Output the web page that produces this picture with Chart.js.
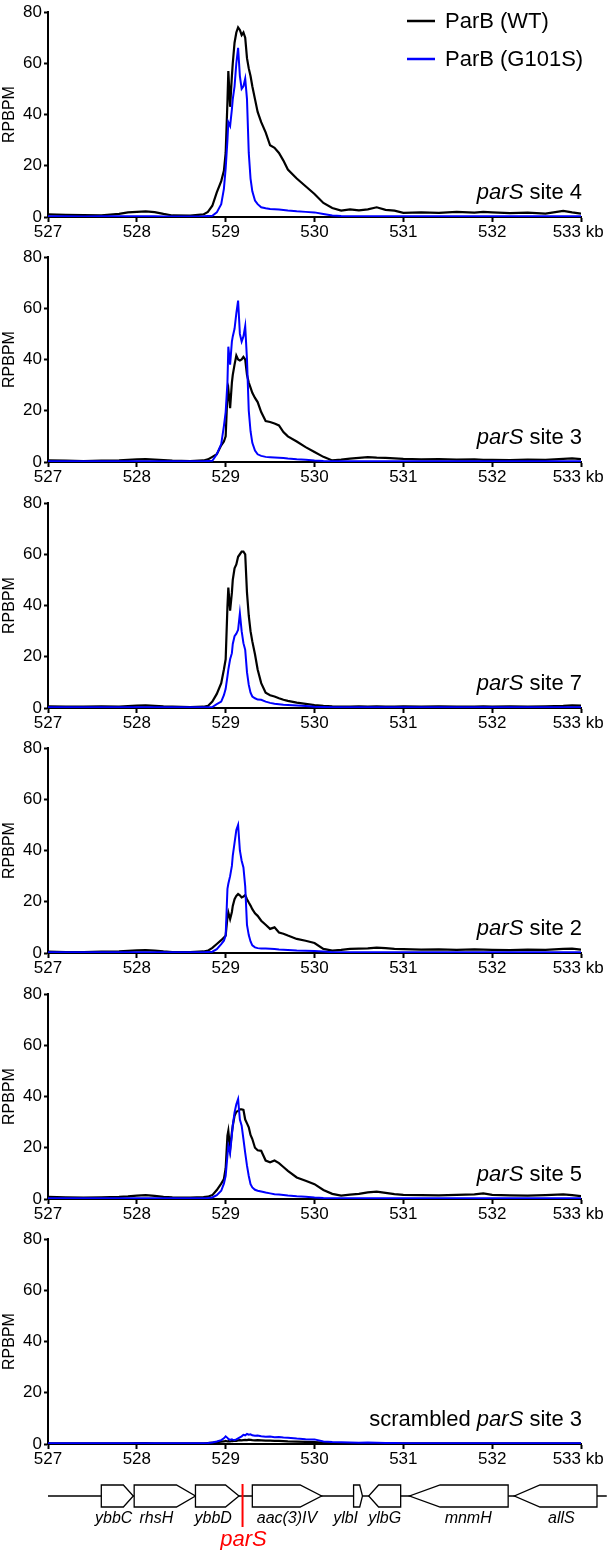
<!DOCTYPE html>
<html><head><meta charset="utf-8">
<script src="https://cdn.jsdelivr.net/npm/chart.js@4.4.1/dist/chart.umd.min.js"></script>
<style>
html,body{margin:0;padding:0;background:#fff;}
body{width:611px;height:1550px;position:relative;overflow:hidden;}
canvas{position:absolute;left:0;}
</style></head><body>
<canvas id="c0" width="611" height="245" style="top:0px"></canvas>
<canvas id="c1" width="611" height="245" style="top:245px"></canvas>
<canvas id="c2" width="611" height="245" style="top:491px"></canvas>
<canvas id="c3" width="611" height="245" style="top:736px"></canvas>
<canvas id="c4" width="611" height="245" style="top:982px"></canvas>
<canvas id="c5" width="611" height="323" style="top:1227px"></canvas>
<script>
// ---------- DATA ----------
const positionsKb = [527.0,527.2,527.4,527.6,527.8,527.9,528.0,528.1,528.2,528.3,
 528.4,528.6,528.75,528.8,528.85,528.9,528.95,528.98,529.0,529.02,
 529.03,529.05,529.07,529.08,529.1,529.12,529.14,529.16,529.18,529.2,
 529.22,529.24,529.26,529.28,529.3,529.33,529.36,529.4,529.45,529.5,
 529.55,529.6,529.65,529.7,529.8,529.9,530.0,530.1,530.2,530.3,
 530.4,530.5,530.6,530.7,530.8,530.9,531.0,531.2,531.4,531.6,
 531.8,531.9,532.0,532.2,532.4,532.6,532.8,532.9,533.0];

const xTicksKb = [527,528,529,530,531,532,533];
const yTicks = [0,20,40,60,80];

const wtSite4 = [1.0,0.8,0.7,0.6,1.2,1.8,2.0,2.2,1.9,1.2,
 0.6,0.5,1.0,2.0,4.4,9.6,14,18,25,45,
 57,43,55,60,68,72,74,73,71,72,
 70,62,58,55,51,46,41,37,33,28,
 27,25,22,18.5,15,12,9,5.5,3.5,2.5,
 3.0,2.6,3.0,3.8,2.8,2.5,1.6,1.8,1.6,2.0,
 1.7,2.0,1.8,1.5,1.7,1.3,2.4,1.8,1.3];
const g101sSite4 = [0.3,0.3,0.2,0.3,0.3,0.3,0.3,0.3,0.3,0.2,
 0.2,0.2,0.3,0.4,0.5,1.8,5,11,19,30,
 37,35.5,42,46,51,60,66,55,50,51,
 54,46,25,15,10,6.4,5,3.8,3.4,3.1,
 3.0,2.9,2.7,2.5,2.2,2.0,1.8,1.2,0.6,0.4,
 0.3,0.3,0.3,0.3,0.3,0.3,0.3,0.3,0.3,0.3,
 0.3,0.3,0.3,0.3,0.3,0.3,0.3,0.3,0.3];

const wtSite3 = [0.6,0.5,0.4,0.5,0.6,0.8,1.0,1.1,0.9,0.7,
 0.5,0.4,0.6,1.0,2,3,6.5,8,10,27,
 28.5,21,31,34,38,41.5,40,39.6,40,41,
 40,34,31,29,27,25,23.4,19.5,16,15.6,
 15,14.3,11.7,10,8,5.8,3.9,2,0.6,0.9,
 1.3,1.6,1.9,1.7,1.6,1.4,1.2,1.0,1.1,0.9,
 1.0,0.8,0.8,0.7,0.9,0.8,1.2,1.4,1.1];
const g101sSite3 = [0.3,0.3,0.3,0.3,0.3,0.3,0.3,0.3,0.3,0.3,
 0.3,0.3,0.3,0.4,0.5,3,7,14,19.5,31,
 45,38,47,49,52,58,63,50,47,49,
 53,40,20,12,7.5,4.5,3,2.4,2,1.9,
 1.8,1.7,1.6,1.4,1.1,0.9,0.6,0.4,0.3,0.3,
 0.3,0.3,0.3,0.3,0.3,0.3,0.3,0.3,0.3,0.3,
 0.3,0.3,0.3,0.3,0.3,0.3,0.3,0.3,0.3];

const wtSite7 = [0.6,0.5,0.5,0.6,0.5,0.7,0.9,1.0,0.8,0.6,
 0.5,0.4,0.5,0.8,2.5,5.5,9.7,15,19,39.6,
 47,38,45,50,54.5,56,59,60,61,61,
 60,45,36,30,26,21,15,9.7,6,5,
 4.5,3.8,3.2,2.8,2.1,1.6,1.1,0.8,0.6,0.5,
 0.5,0.6,0.5,0.6,0.5,0.5,0.6,0.5,0.6,0.5,
 0.5,0.6,0.5,0.6,0.5,0.6,0.8,1.0,0.9];
const g101sSite7 = [0.3,0.3,0.3,0.3,0.3,0.3,0.3,0.3,0.3,0.3,
 0.3,0.3,0.3,0.3,0.4,1.5,2.5,5,7.5,12.3,
 15,19,21.4,25,28,29,30.5,37,30,25.3,
 22.7,14,9,6,4.5,3.8,3.3,3.2,2.5,2,
 1.7,1.5,1.3,1.2,1.0,0.8,0.5,0.4,0.3,0.3,
 0.3,0.3,0.3,0.3,0.3,0.3,0.3,0.3,0.3,0.3,
 0.3,0.3,0.3,0.3,0.3,0.3,0.3,0.3,0.3];

const wtSite2 = [0.5,0.4,0.4,0.5,0.6,0.8,1.0,1.1,0.9,0.6,
 0.4,0.4,0.6,0.9,2,3.5,5,6,6.8,14,
 15.8,13.2,16,18.4,21,22.3,23,22.5,21.7,22,
 22.6,21,19.7,18.5,17.1,15.5,14.5,12.6,11,9.4,
 10,8,7.5,6.8,5.5,4.8,3.9,1.6,0.9,1.2,
 1.6,1.7,1.8,2.1,1.9,1.6,1.5,1.3,1.4,1.2,
 1.4,1.3,1.2,1.1,1.3,1.2,1.6,1.7,1.3];
const g101sSite2 = [0.3,0.3,0.3,0.3,0.3,0.3,0.3,0.3,0.3,0.3,
 0.3,0.3,0.3,0.4,0.5,1.5,3.5,4.8,6.8,25,
 27,30,34,38,43,48,50,40,36,33.4,
 26,11,7,4.5,3,2.2,1.9,1.8,1.8,1.7,
 1.6,1.4,1.3,1.2,1.0,0.9,0.8,0.6,0.3,0.3,
 0.3,0.3,0.3,0.3,0.3,0.3,0.3,0.3,0.3,0.3,
 0.3,0.3,0.3,0.3,0.3,0.3,0.3,0.3,0.3];

const wtSite5 = [0.8,0.6,0.5,0.6,0.8,1.0,1.3,1.5,1.2,0.8,
 0.6,0.5,0.7,0.9,1.5,3.5,6,7.8,12,24.7,
 26.6,19.5,26,28.6,32.5,34,34.4,35,35,34.8,
 31,29.5,28,25,23.4,20,19,18.8,15,14.3,
 15,14,12.5,11,8.4,7.1,5.8,3.5,2,1.3,
 1.7,2.0,2.6,2.9,2.4,1.9,1.6,1.5,1.4,1.6,
 1.8,2.2,1.6,1.4,1.3,1.5,1.8,1.5,1.1];
const g101sSite5 = [0.3,0.3,0.3,0.3,0.3,0.3,0.3,0.3,0.3,0.3,
 0.3,0.3,0.3,0.4,0.6,1.5,3.2,6,9,17,
 20.8,18,25,28.6,33.8,37,39,31,28.6,23.4,
 18,13,9,5.8,4.5,3.6,3.2,2.9,2.5,2.2,
 1.9,1.8,1.6,1.4,1.1,0.9,0.6,0.4,0.3,0.3,
 0.3,0.3,0.3,0.3,0.3,0.3,0.3,0.3,0.3,0.3,
 0.3,0.3,0.3,0.3,0.3,0.3,0.3,0.3,0.3];

const wtScrambled3 = [0.3,0.3,0.3,0.3,0.3,0.3,0.4,0.4,0.3,0.3,
 0.3,0.3,0.3,0.4,0.5,0.7,0.9,1.0,1.2,1.0,
 1.1,1.0,1.2,1.1,1.3,1.2,1.4,1.5,1.4,1.5,
 1.6,1.5,1.7,1.6,1.5,1.4,1.5,1.4,1.3,1.3,
 1.2,1.2,1.1,1.0,0.9,0.8,0.7,0.5,0.4,0.3,
 0.3,0.3,0.3,0.3,0.3,0.3,0.3,0.3,0.3,0.3,
 0.3,0.3,0.3,0.3,0.3,0.3,0.3,0.3,0.3];
const g101sScrambled3 = [0.3,0.3,0.3,0.3,0.3,0.3,0.3,0.3,0.3,0.3,
 0.3,0.3,0.3,0.4,0.6,1.0,1.5,2.2,3.0,2.4,
 2.0,1.6,1.8,1.7,1.6,1.8,2.2,2.6,3.0,3.6,
 3.4,3.9,3.6,3.8,3.4,3.2,3.3,3.0,2.8,2.9,
 2.6,2.7,2.5,2.4,2.1,1.9,1.8,1.0,0.8,0.7,
 0.6,0.5,0.6,0.5,0.4,0.4,0.3,0.3,0.3,0.3,
 0.3,0.3,0.3,0.3,0.3,0.3,0.3,0.3,0.3];

const seriesNames = ['ParB (WT)', 'ParB (G101S)'];
const panelTitles = [
  [['parS',true],[' site 4',false]],
  [['parS',true],[' site 3',false]],
  [['parS',true],[' site 7',false]],
  [['parS',true],[' site 2',false]],
  [['parS',true],[' site 5',false]],
  [['scrambled ',false],['parS',true],[' site 3',false]]
];
const panelWT = [wtSite4, wtSite3, wtSite7, wtSite2, wtSite5, wtScrambled3];
const panelMut = [g101sSite4, g101sSite3, g101sSite7, g101sSite2, g101sSite5, g101sScrambled3];

const geneNames = ['ybbC','rhsH','ybbD','aac(3)IV','ylbI','ylbG','mnmH','allS'];
const geneStartKb = [527.60, 527.97, 528.66, 529.30, 530.44, 530.61, 531.07, 532.25];
const geneEndKb = [527.96, 528.66, 529.15, 530.08, 530.54, 530.97, 532.18, 533.18];
const geneStrand = [1, 1, 1, 1, 1, -1, -1, -1];
const geneLabelKb = [527.74, 528.22, 528.86, 529.69, 530.35, 530.79, 531.73, 532.78];
const trackKb = [527.0, 533.29];
const parSKb = 529.19;
const parSName = 'parS';
const yTitle = 'RPBPM';
const xUnit = 'kb';

// ---------- DRAWING ----------
const FONT = '"Liberation Sans", Arial, Helvetica, sans-serif';
const BLUE = 'rgb(0,0,255)';
const CHART_BOTTOM = 217;
const TICK_FONT = 17;
const LABEL_FONT = 22;

function drawRich(ctx, parts, rightX, y, size) {
  const widths = parts.map(p => { ctx.font = (p[1] ? 'italic ' : '') + size + 'px ' + FONT; return ctx.measureText(p[0]).width; });
  let x = rightX - widths.reduce((a, b) => a + b, 0);
  ctx.textAlign = 'left';
  ctx.textBaseline = 'middle';
  parts.forEach((p, i) => { ctx.font = (p[1] ? 'italic ' : '') + size + 'px ' + FONT; ctx.fillText(p[0], x, y); x += widths[i]; });
}

function makeDecor(idx) {
  return {
    id: 'decor' + idx,
    afterDraw(chart) {
      const ctx = chart.ctx;
      const area = chart.chartArea;
      const xs = chart.scales.x;
      ctx.save();
      ctx.fillStyle = '#000';
      // y title
      ctx.save();
      ctx.translate(10, (area.top + area.bottom) / 2);
      ctx.rotate(-Math.PI / 2);
      ctx.font = '16px ' + FONT;
      ctx.textAlign = 'center';
      ctx.textBaseline = 'middle';
      ctx.fillText(yTitle, 0, 0);
      ctx.restore();
      // last tick label with unit: number ends at the tick
      const lastVal = xTicksKb[xTicksKb.length - 1];
      const lastPx = xs.getPixelForValue(lastVal);
      ctx.font = TICK_FONT + 'px ' + FONT;
      const numW = ctx.measureText(String(lastVal)).width;
      ctx.textAlign = 'left';
      ctx.textBaseline = 'middle';
      ctx.fillText(String(lastVal) + ' ' + xUnit, lastPx - numW, area.bottom + 5 + 2 + TICK_FONT / 2);
      // panel title
      drawRich(ctx, panelTitles[idx], area.right + 1, area.bottom - 24, LABEL_FONT);
      // legend
      if (idx === 0) {
        const cols = ['#000', BLUE];
        const ys = [21, 59];
        for (let i = 0; i < 2; i++) {
          ctx.strokeStyle = cols[i];
          ctx.lineWidth = 2.5;
          ctx.beginPath(); ctx.moveTo(407, ys[i]); ctx.lineTo(435, ys[i]); ctx.stroke();
          ctx.fillStyle = '#000';
          ctx.font = LABEL_FONT + 'px ' + FONT;
          ctx.textAlign = 'left';
          ctx.textBaseline = 'middle';
          ctx.fillText(seriesNames[i], 445, ys[i] + 1);
        }
      }
      // gene map
      if (idx === 5) {
        const lineY = 269, half = 11;
        ctx.strokeStyle = '#000';
        ctx.lineWidth = 1.5;
        ctx.beginPath();
        ctx.moveTo(xs.getPixelForValue(trackKb[0]), lineY);
        ctx.lineTo(xs.getPixelForValue(trackKb[1]), lineY);
        ctx.stroke();
        for (let g = 0; g < geneNames.length; g++) {
          const s = xs.getPixelForValue(geneStartKb[g]);
          const e = xs.getPixelForValue(geneEndKb[g]);
          const head = (e - s) * 0.31;
          ctx.beginPath();
          if (geneStrand[g] > 0) {
            ctx.moveTo(s, lineY - half); ctx.lineTo(e - head, lineY - half); ctx.lineTo(e, lineY);
            ctx.lineTo(e - head, lineY + half); ctx.lineTo(s, lineY + half);
          } else {
            ctx.moveTo(e, lineY - half); ctx.lineTo(s + head, lineY - half); ctx.lineTo(s, lineY);
            ctx.lineTo(s + head, lineY + half); ctx.lineTo(e, lineY + half);
          }
          ctx.closePath();
          ctx.fillStyle = '#fff';
          ctx.fill();
          ctx.lineWidth = 1.3;
          ctx.stroke();
          ctx.fillStyle = '#000';
          ctx.font = 'italic 16px ' + FONT;
          ctx.textAlign = 'center';
          ctx.textBaseline = 'middle';
          ctx.fillText(geneNames[g], xs.getPixelForValue(geneLabelKb[g]), lineY + 23);
        }
        const px = xs.getPixelForValue(parSKb);
        ctx.strokeStyle = '#ff0000';
        ctx.lineWidth = 2;
        ctx.beginPath(); ctx.moveTo(px, lineY - 12); ctx.lineTo(px, lineY + 31); ctx.stroke();
        ctx.fillStyle = '#ff0000';
        ctx.font = 'italic 22px ' + FONT;
        ctx.textAlign = 'center';
        ctx.textBaseline = 'middle';
        ctx.fillText(parSName, px + 1, lineY + 44);
      }
      ctx.restore();
    }
  };
}

for (let i = 0; i < 6; i++) {
  const canvas = document.getElementById('c' + i);
  const H = canvas.height;
  const wtPts = positionsKb.map((x, k) => ({x: x, y: panelWT[i][k]}));
  const mutPts = positionsKb.map((x, k) => ({x: x, y: panelMut[i][k]}));
  const lastTick = xTicksKb[xTicksKb.length - 1];
  new Chart(canvas, {
    type: 'line',
    data: {
      datasets: [
        {label: seriesNames[0], data: wtPts, borderColor: '#000', borderWidth: 2.2, pointRadius: 0, tension: 0, fill: false, order: 1},
        {label: seriesNames[1], data: mutPts, borderColor: BLUE, borderWidth: 2, pointRadius: 0, tension: 0, fill: false, order: 0}
      ]
    },
    options: {
      responsive: false,
      animation: false,
      devicePixelRatio: 1,
      layout: {padding: {top: 12, right: 30, bottom: 0, left: 0}},
      plugins: {legend: {display: false}, tooltip: {enabled: false}},
      scales: {
        x: {
          type: 'linear', min: xTicksKb[0], max: lastTick,
          afterBuildTicks: (s) => { s.ticks = xTicksKb.map(v => ({value: v})); },
          afterFit: (s) => { s.height = H - CHART_BOTTOM; },
          ticks: {color: '#000', font: {family: FONT, size: TICK_FONT, lineHeight: 1}, padding: 2, maxRotation: 0, autoSkip: false,
                  callback: (v) => (v === lastTick ? '' : String(v))},
          grid: {display: true, drawOnChartArea: false, drawTicks: true, tickLength: 5, tickWidth: 2, tickColor: '#000'},
          border: {display: true, color: '#000', width: 2}
        },
        y: {
          min: yTicks[0], max: yTicks[yTicks.length - 1],
          afterBuildTicks: (s) => { s.ticks = yTicks.map(v => ({value: v})); },
          afterFit: (s) => { s.width = 48; },
          ticks: {color: '#000', font: {family: FONT, size: TICK_FONT, lineHeight: 1}, padding: 2},
          grid: {display: true, drawOnChartArea: false, drawTicks: true, tickLength: 4, tickWidth: 2, tickColor: '#000'},
          border: {display: true, color: '#000', width: 2}
        }
      }
    },
    plugins: [makeDecor(i)]
  });
}
</script>
</body></html>
